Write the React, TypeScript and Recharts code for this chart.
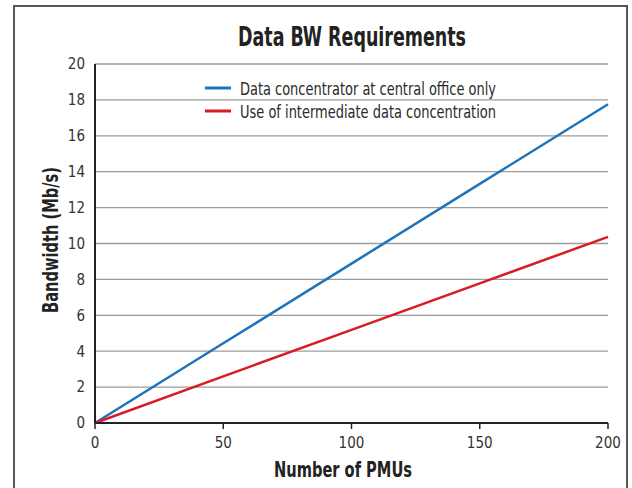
import React from 'react';
import { LineChart, Line, XAxis, YAxis, CartesianGrid, Legend } from 'recharts';

const FONT = "'Liberation Sans Narrow', 'DejaVu Sans Condensed', 'Roboto', sans-serif";

const pmuCounts = [0, 50, 100, 150, 200];
const centralOffice = [0, 4.44, 8.88, 13.32, 17.76];
const intermediate = [0, 2.6, 5.19, 7.78, 10.37];
const xTicks = [0, 50, 100, 150, 200];
const yTicks = [0, 2, 4, 6, 8, 10, 12, 14, 16, 18, 20];

const seriesNames = {
  central: 'Data concentrator at central office only',
  inter: 'Use of intermediate data concentration',
};

const data = pmuCounts.map((n, i) => ({
  pmus: n,
  central: centralOffice[i],
  inter: intermediate[i],
}));

// legend drawn as svg so the condensed look can be squeezed to the reference width
const LegendBox = ({ payload }: any) => (
  <svg width={400} height={50} style={{ overflow: 'visible' }}>
    {(payload || []).map((p: any, i: number) => (
      <g key={p.value}>
        <line x1={5} x2={31} y1={13 + i * 23} y2={13 + i * 23} stroke={p.color} strokeWidth={3} />
        <text
          x={40}
          y={19.5 + i * 23}
          fontFamily={FONT}
          fontSize={17}
          fill="#2a2a2a"
          textLength={256}
          lengthAdjust="spacingAndGlyphs"
        >
          {p.value}
        </text>
      </g>
    ))}
  </svg>
);

export default function App() {
  return (
    <div style={{ position: 'absolute', left: 0, top: 0, width: 632, height: 488, background: '#fff', overflow: 'hidden' }}>
      <div
        style={{
          position: 'absolute',
          left: 13,
          top: 5,
          width: 611,
          height: 520,
          border: '2px solid #575757',
        }}
      />
      <LineChart width={632} height={488} data={data} margin={{ top: 64, right: 24, bottom: 35, left: 35 }}>
        <CartesianGrid vertical={false} stroke="#9c9c9c" strokeWidth={1.3} />
        <XAxis
          dataKey="pmus"
          type="number"
          domain={[0, 200]}
          ticks={xTicks}
          height={30}
          axisLine={{ stroke: '#222', strokeWidth: 2 }}
          tickLine={{ stroke: '#222', strokeWidth: 1.5 }}
          tickSize={6}
          tickMargin={8}
          tick={{ fill: '#333', fontSize: 15, fontFamily: FONT }}
        />
        <YAxis
          domain={[0, 20]}
          ticks={yTicks}
          width={60}
          axisLine={{ stroke: '#222', strokeWidth: 2 }}
          tickLine={false}
          tickMargin={4}
          tick={{ fill: '#333', fontSize: 15, fontFamily: FONT }}
        />
        <Legend
          layout="vertical"
          verticalAlign="middle"
          align="center"
          content={<LegendBox />}
          wrapperStyle={{ position: 'absolute', left: 200, top: 75, width: 400, height: 50 }}
        />
        <Line
          type="linear"
          dataKey="central"
          name={seriesNames.central}
          stroke="#1f73b9"
          strokeWidth={2.5}
          dot={false}
          isAnimationActive={false}
        />
        <Line
          type="linear"
          dataKey="inter"
          name={seriesNames.inter}
          stroke="#d81b24"
          strokeWidth={2.5}
          dot={false}
          isAnimationActive={false}
        />
      </LineChart>
      <svg width={632} height={488} style={{ position: 'absolute', left: 0, top: 0, pointerEvents: 'none' }}>
        <text
          x={352}
          y={46}
          textAnchor="middle"
          fontFamily={FONT}
          fontSize={26}
          fontWeight={700}
          fill="#222"
          textLength={228}
          lengthAdjust="spacingAndGlyphs"
        >
          Data BW Requirements
        </text>
        <text
          x={343}
          y={477}
          textAnchor="middle"
          fontFamily={FONT}
          fontSize={21}
          fontWeight={700}
          fill="#222"
          textLength={138}
          lengthAdjust="spacingAndGlyphs"
        >
          Number of PMUs
        </text>
        <text
          x={58}
          y={240}
          transform="rotate(-90 58 240)"
          textAnchor="middle"
          fontFamily={FONT}
          fontSize={21}
          fontWeight={700}
          fill="#222"
          textLength={146}
          lengthAdjust="spacingAndGlyphs"
        >
          Bandwidth (Mb/s)
        </text>
      </svg>
    </div>
  );
}
